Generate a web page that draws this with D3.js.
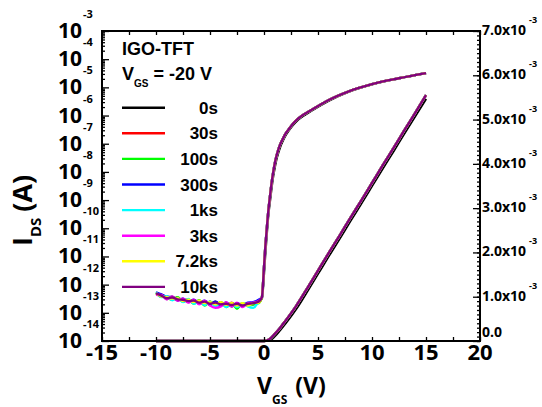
<!DOCTYPE html>
<html>
<head>
<meta charset="utf-8">
<script src="https://cdn.jsdelivr.net/npm/d3@7"></script>
<style>
  body { margin: 0; background: #fff; }
  text { font-family: "Open Sans", "Liberation Sans", sans-serif; font-weight: 700; fill: #000; }
  .leg text { font-family: "Liberation Sans", Arial, sans-serif; }
</style>
</head>
<body>
<svg id="chart" width="542" height="407"></svg>
<script>
// stress times (legend) and their colours
var labels = ['0s', '30s', '100s', '300s', '1ks', '3ks', '7.2ks', '10ks']
var colors = ['#000000', '#ff0000', '#00ff00', '#0000ff', '#00ffff', '#ff00ff', '#ffff00', '#800080']

// off-state gate voltages (V) and noisy currents, in units of 1e-13 A
var vOff = [-10, -9.5, -9, -8.5, -8, -7.5, -7, -6.5, -6, -5.5, -5, -4.5, -4, -3.5, -3, -2.5, -2, -1.5, -1, -0.5]
var offBlack = [4.6, 4.4, 3.1, 3.7, 2.8, 3.1, 2.4, 2.8, 2.1, 2.6, 1.9, 2.5, 1.8, 2.3, 1.7, 2.2, 1.8, 2.2, 2.0, 2.6]
var offRed = [5.2, 3.7, 3.8, 2.9, 3.5, 2.5, 3.0, 2.2, 2.7, 2.0, 2.5, 1.9, 2.4, 1.7, 2.3, 1.7, 2.1, 1.8, 2.3, 2.3]
var offGreen = [4.5, 4.2, 3.3, 3.0, 3.6, 2.5, 3.0, 2.1, 2.8, 1.8, 2.5, 1.8, 2.4, 1.6, 2.2, 1.4, 2.2, 1.9, 2.0, 2.2]
var offBlue = [5.3, 4.5, 3.7, 3.6, 2.8, 3.2, 2.5, 2.9, 2.3, 2.7, 2.1, 2.5, 1.9, 2.3, 1.8, 2.2, 1.8, 2.3, 2.4, 2.9]
var offCyan = [5.4, 3.6, 3.9, 2.8, 3.4, 2.4, 3.1, 2.1, 2.6, 1.9, 2.5, 1.7, 2.3, 1.6, 2.1, 1.6, 2.2, 1.7, 1.5, 2.5]
var offMagenta = [4.4, 4.3, 3.0, 3.8, 2.7, 3.2, 2.3, 2.9, 2.0, 2.7, 1.8, 1.5, 1.7, 2.4, 1.7, 2.3, 1.6, 2.2, 2.3, 2.6]
var offYellow = [5.0, 3.8, 3.6, 3.2, 3.3, 2.6, 2.9, 2.4, 2.7, 2.2, 2.4, 2.0, 2.4, 1.9, 2.2, 1.8, 2.2, 1.8, 2.2, 2.3]
var offPurple = [4.9, 4.1, 3.3, 3.5, 3.0, 2.9, 2.6, 2.7, 2.3, 2.5, 2.1, 2.3, 2.0, 2.1, 1.9, 2.1, 1.8, 2.1, 2.2, 2.5]
var offSets = [offBlack, offRed, offGreen, offBlue, offCyan, offMagenta, offYellow, offPurple]

// on-state (log axis) currents in A
var vOn = [-0.2, 0, 0.1, 0.25, 0.4, 0.56, 0.7, 0.86, 1.0, 1.15, 1.32, 1.5, 1.75, 2.0, 2.25, 2.7, 3.18, 4.42, 5.95, 7.8, 10, 12.5, 15]
var onFresh = [3.2e-13, 2.6e-12, 1.0e-11, 6.0e-11, 3.0e-10, 1.0e-9, 2.8e-9, 7.5e-9, 1.5e-8, 2.8e-8, 4.8e-8, 7.8e-8, 1.3e-7, 2.0e-7, 2.8e-7, 4.7e-7, 7.3e-7, 1.5e-6, 3.3e-6, 6.9e-6, 1.27e-5, 2.1e-5, 3.2e-5]
var onStressed = [3.5e-13, 4.0e-12, 1.6e-11, 8.7e-11, 4.0e-10, 1.4e-9, 3.9e-9, 1.0e-8, 2.0e-8, 3.6e-8, 6.0e-8, 9.5e-8, 1.5e-7, 2.3e-7, 3.1e-7, 5.2e-7, 7.9e-7, 1.6e-6, 3.5e-6, 7.1e-6, 1.3e-5, 2.1e-5, 3.2e-5]

// linear axis currents, in units of 1e-3 A
var vLin = [-10, -5, 0, 0.5, 1, 1.5, 2, 3, 4, 5, 6, 7, 8, 9, 10, 11, 12, 13, 14, 15]
var linFresh = [0, 0, 0, 0.01, 0.11, 0.25, 0.40, 0.73, 1.12, 1.52, 1.92, 2.31, 2.71, 3.10, 3.50, 3.90, 4.29, 4.69, 5.08, 5.47]
var linStressed = [0, 0, 0, 0.04, 0.16, 0.30, 0.46, 0.80, 1.19, 1.59, 1.99, 2.38, 2.78, 3.17, 3.57, 3.97, 4.36, 4.76, 5.15, 5.55]

// tick labels
var xTicks = [-15, -10, -5, 0, 5, 10, 15, 20]
var logExps = [-3, -4, -5, -6, -7, -8, -9, -10, -11, -12, -13, -14]
var linTicks = ['0.0', '1.0', '2.0', '3.0', '4.0', '5.0', '6.0', '7.0']

var L = 102, R = 480, T = 31, B = 341
var svg = d3.select('#chart')

var x = d3.scaleLinear().domain([-15, 20]).range([L, R])
var yLog = d3.scaleLog().domain([1e-14, 1e-3]).range([B, T])
var yLin = d3.scaleLinear().domain([0, 7e-3]).range([B, T])

// ---- curves ----
var lineLog = d3.line().x(d => x(d[0])).y(d => yLog(d[1])).curve(d3.curveMonotoneX)
var lineLin = d3.line().x(d => x(d[0])).y(d => yLin(d[1])).curve(d3.curveMonotoneX)

var curves = svg.append('g')
colors.forEach(function (c, i) {
  var on = i === 0 ? onFresh : onStressed
  var lin = i === 0 ? linFresh : linStressed
  var pts = vOff.map((v, k) => [v, offSets[i][k] * 1e-13])
    .concat(vOn.map((v, k) => [v, on[k]]))
  curves.append('path').attr('d', lineLog(pts))
    .attr('fill', 'none').attr('stroke', c).attr('stroke-width', 2.4)
  curves.append('path').attr('d', lineLin(vLin.map((v, k) => [v, lin[k] * 1e-3])))
    .attr('fill', 'none').attr('stroke', c).attr('stroke-width', 2.4)
})

// ---- axes ----
var minorX = d3.range(-15, 20.1, 2.5)
svg.append('g').attr('transform', 'translate(0,' + B + ')')
  .call(d3.axisBottom(x).tickValues(minorX).tickSize(-4).tickFormat(''))
svg.append('g').attr('transform', 'translate(0,' + T + ')')
  .call(d3.axisTop(x).tickValues(minorX).tickSize(-4).tickFormat(''))

var minorLog = []
for (var e = -14; e < -3; e++) for (var m = 2; m <= 9; m++) minorLog.push(m * Math.pow(10, e))
var decades = logExps.map(e => Math.pow(10, e))
svg.append('g').attr('transform', 'translate(' + L + ',0)')
  .call(d3.axisLeft(yLog).tickValues(minorLog).tickSize(-3).tickFormat(''))
svg.append('g').attr('transform', 'translate(' + L + ',0)')
  .call(d3.axisLeft(yLog).tickValues(decades).tickSize(-7).tickFormat(''))

var minorLin = d3.range(0, 7e-3 + 1e-9, 1e-4)
svg.append('g').attr('transform', 'translate(' + R + ',0)')
  .call(d3.axisRight(yLin).tickValues(minorLin).tickSize(-3).tickFormat(''))
svg.append('g').attr('transform', 'translate(' + R + ',0)')
  .call(d3.axisRight(yLin).tickValues(linTicks.map(t => +t * 1e-3)).tickSize(-7).tickFormat(''))

svg.selectAll('.tick line').attr('stroke', '#000').attr('stroke-width', 1.3)
svg.selectAll('.domain').remove()

svg.append('rect').attr('x', L).attr('y', T).attr('width', R - L).attr('height', B - T)
  .attr('fill', 'none').attr('stroke', '#000').attr('stroke-width', 2)

// bottom tick labels
svg.append('g').selectAll('text').data(xTicks).join('text')
  .attr('x', d => x(d)).attr('y', B + 19)
  .attr('text-anchor', 'middle').style('font-size', '22px')
  .text(d => d)

// left tick labels: 10^n
var lg = svg.append('g')
logExps.forEach(function (e) {
  var yy = yLog(Math.pow(10, e))
  lg.append('text').attr('x', 82).attr('y', yy + 7).attr('text-anchor', 'end')
    .style('font-size', '21px').text('10')
  lg.append('text').attr('x', 83).attr('y', yy - 13)
    .style('font-size', '11px').text(e)
})

// right tick labels: n.0x10^-3
var rg = svg.append('g')
linTicks.forEach(function (t) {
  var yy = yLin(+t * 1e-3)
  var txt = rg.append('text').attr('x', R + 2).attr('y', yy + 4).style('font-size', '14px')
  if (+t === 0) { txt.attr('y', yy - 4).text(t); return }
  txt.append('tspan').text(t + 'x10')
  txt.append('tspan').attr('dy', -12).attr('dx', 3).style('font-size', '9px').text('-3')
})

// axis titles
var yt = svg.append('text').attr('transform', 'translate(32,246) rotate(-90)')
  .style('font-size', '27px')
yt.append('tspan').text('I')
yt.append('tspan').attr('dy', 9).style('font-size', '15px').text('DS')
yt.append('tspan').attr('dy', -9).attr('dx', 6).text('(A)')

var xt = svg.append('text').attr('x', 257).attr('y', 394).style('font-size', '23px')
xt.append('tspan').text('V')
xt.append('tspan').attr('dy', 10).style('font-size', '12px').text('GS')
xt.append('tspan').attr('dy', -10).attr('dx', 8).text('(V)')

// ---- legend ----
var leg = svg.append('g').attr('class', 'leg')
leg.append('text').attr('x', 122).attr('y', 55).style('font-size', '18px').text('IGO-TFT')
var vg = leg.append('text').attr('x', 122).attr('y', 80).style('font-size', '18px')
vg.append('tspan').text('V')
vg.append('tspan').attr('dy', 7).style('font-size', '10px').text('GS')
vg.append('tspan').attr('dy', -7).text(' = -20 V')

labels.forEach(function (lab, i) {
  var yy = 107.7 + i * 25.6
  leg.append('line').attr('x1', 122).attr('x2', 165).attr('y1', yy).attr('y2', yy)
    .attr('stroke', colors[i]).attr('stroke-width', 2.4)
  leg.append('text').attr('x', 218).attr('y', yy + 6).attr('text-anchor', 'end')
    .style('font-size', '17px').text(lab)
})
</script>
</body>
</html>
